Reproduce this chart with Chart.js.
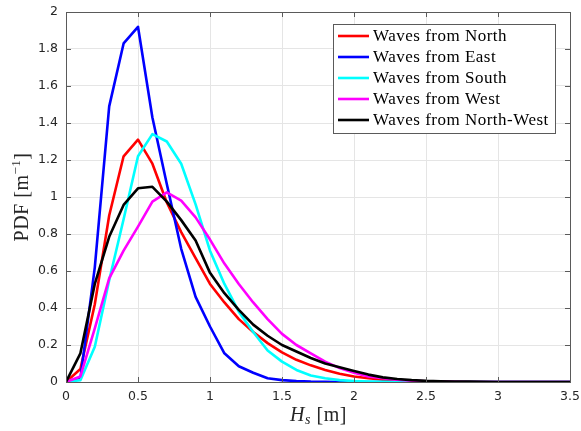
<!DOCTYPE html>
<html><head><meta charset="utf-8">
<script src="https://cdn.jsdelivr.net/npm/chart.js@4"></script>
<style>html,body{margin:0;padding:0;background:#fff;}canvas{display:block;}</style>
</head><body>
<canvas id="c" width="581" height="431"></canvas>
<script>
const hs = [0,0.1,0.2,0.3,0.4,0.5,0.6,0.7,0.8,0.9,1.0,1.1,1.2,1.3,1.4,1.5,1.6,1.7,1.8,1.9,2.0,2.1,2.2,2.3,2.4,2.5,2.6,2.7,2.8,2.9,3.0,3.1,3.2,3.3,3.4,3.5];
const north = [0,0.07,0.42,0.9,1.22,1.31,1.18,0.97,0.81,0.67,0.53,0.43,0.34,0.27,0.21,0.16,0.12,0.09,0.065,0.045,0.03,0.02,0.013,0.008,0.005,0.003,0.002,0.001,0,0,0,0,0,0,0,0];
const east = [0,0.02,0.62,1.49,1.83,1.92,1.43,1.07,0.72,0.46,0.30,0.155,0.085,0.05,0.02,0.01,0.005,0.002,0.001,0,0,0,0,0,0,0,0,0,0,0,0,0,0,0,0,0];
const south = [0,0.01,0.19,0.55,0.88,1.22,1.34,1.30,1.18,0.96,0.71,0.53,0.38,0.27,0.17,0.11,0.065,0.035,0.02,0.01,0.005,0.003,0.001,0,0,0,0,0,0,0,0,0,0,0,0,0];
const west = [0,0.03,0.29,0.56,0.71,0.84,0.975,1.025,0.98,0.89,0.77,0.64,0.53,0.43,0.34,0.26,0.2,0.155,0.11,0.075,0.05,0.03,0.02,0.012,0.007,0.004,0.002,0.001,0,0,0,0,0,0,0,0];
const northWest = [0,0.155,0.53,0.785,0.957,1.047,1.055,0.975,0.875,0.765,0.59,0.48,0.39,0.31,0.25,0.2,0.165,0.13,0.1,0.08,0.06,0.04,0.025,0.016,0.01,0.006,0.004,0.003,0.002,0.001,0,0,0,0,0,0];
const seriesLabels = ['Waves from North','Waves from East','Waves from South','Waves from West','Waves from North-West'];
const seriesColors = ['#ff0000','#0000ff','#00ffff','#ff00ff','#000000'];
const xTicks = [0,0.5,1,1.5,2,2.5,3,3.5];
const yTicks = [0,0.2,0.4,0.6,0.8,1,1.2,1.4,1.6,1.8,2];

const allSeries = [north, east, south, west, northWest];
const datasets = allSeries.map((arr, i) => ({
  label: seriesLabels[i],
  data: hs.map((x, k) => ({x: x, y: arr[k]})),
  borderColor: seriesColors[i],
  backgroundColor: seriesColors[i],
  borderWidth: 2.6,
  pointRadius: 0,
  tension: 0,
  order: allSeries.length - i,
  borderJoinStyle: 'round'
}));

const AX = '#262626';
const FRAME = '#5a5a5a';
function setSpacing(ctx, v) { if ('letterSpacing' in ctx) ctx.letterSpacing = v; }
const frame = {
  id: 'frame',
  afterDatasetsDraw(chart) {
    const {ctx, chartArea: a, scales} = chart;
    ctx.save();
    ctx.strokeStyle = FRAME; ctx.lineWidth = 1;
    ctx.strokeRect(Math.round(a.left)+0.5, Math.round(a.top)+0.5, Math.round(a.right-a.left), Math.round(a.bottom-a.top));
    const tl = 5;
    ctx.beginPath();
    yTicks.forEach(v => { const y = Math.round(scales.y.getPixelForValue(v))+0.5;
      ctx.moveTo(a.left, y); ctx.lineTo(a.left+tl, y); ctx.moveTo(a.right, y); ctx.lineTo(a.right-tl, y); });
    xTicks.forEach(v => { const x = Math.round(scales.x.getPixelForValue(v))+0.5;
      ctx.moveTo(x, a.bottom); ctx.lineTo(x, a.bottom-tl); ctx.moveTo(x, a.top); ctx.lineTo(x, a.top+tl); });
    ctx.stroke();
    // legend
    const lx = 333.5, ly = 24.5, lw = 222, lh = 109;
    ctx.fillStyle = '#fff'; ctx.fillRect(lx, ly, lw, lh);
    ctx.strokeStyle = FRAME; ctx.lineWidth = 1; ctx.strokeRect(lx, ly, lw, lh);
    ctx.font = '17px "Liberation Serif"';
    setSpacing(ctx, '0.5px');
    ctx.textBaseline = 'middle'; ctx.textAlign = 'left';
    chart.data.datasets.forEach((ds, i) => {
      const y = 36 + i * 21;
      ctx.strokeStyle = ds.borderColor; ctx.lineWidth = 2.6;
      ctx.beginPath(); ctx.moveTo(338, y); ctx.lineTo(369, y); ctx.stroke();
      ctx.fillStyle = '#000'; ctx.fillText(ds.label, 373, y + 1);
    });
    // axis titles
    ctx.fillStyle = AX;
    ctx.textBaseline = 'alphabetic';
    const xc = 318.5;
    const p1 = 'H', p2 = 's', p3 = ' [m]';
    ctx.font = 'italic 20px "Liberation Serif"'; const w1 = ctx.measureText(p1).width;
    ctx.font = 'italic 14px "Liberation Serif"'; const w2 = ctx.measureText(p2).width;
    ctx.font = '20px "Liberation Serif"'; const w3 = ctx.measureText(p3).width;
    let sx = xc - (w1 + w2 + w3) / 2; const by = 421;
    ctx.font = 'italic 20px "Liberation Serif"'; ctx.fillText(p1, sx, by); sx += w1;
    ctx.font = 'italic 14px "Liberation Serif"'; ctx.fillText(p2, sx, by + 3); sx += w2;
    ctx.font = '20px "Liberation Serif"'; ctx.fillText(p3, sx, by);
    ctx.save();
    ctx.translate(28, 197);
    ctx.rotate(-Math.PI / 2);
    const q1 = 'PDF [m', q2 = '\u22121', q3 = ']';
    ctx.font = '20px "Liberation Serif"'; const v1 = ctx.measureText(q1).width; const v3 = ctx.measureText(q3).width;
    ctx.font = '13px "Liberation Serif"'; const v2 = ctx.measureText(q2).width;
    let ty = -(v1 + v2 + v3) / 2;
    ctx.font = '20px "Liberation Serif"'; ctx.fillText(q1, ty, 0); ty += v1;
    ctx.font = '13px "Liberation Serif"'; ctx.fillText(q2, ty, -8); ty += v2;
    ctx.font = '20px "Liberation Serif"'; ctx.fillText(q3, ty, 0);
    ctx.restore();
    setSpacing(ctx, '0px');
    ctx.restore();
  }
};

const chart = new Chart(document.getElementById('c'), {
  type: 'line',
  data: { datasets },
  options: {
    responsive: false,
    animation: false,
    layout: { padding: { top: 12, right: 11, left: 0, bottom: 0 } },
    plugins: { legend: { display: false }, tooltip: { enabled: false } },
    scales: {
      x: {
        type: 'linear', min: 0, max: 3.5,
        afterBuildTicks: s => { s.ticks = xTicks.map(v => ({value: v})); },
        afterFit: s => { s.height = 49; },
        grid: { color: '#e5e5e5', drawTicks: true, tickLength: 7, tickColor: 'rgba(0,0,0,0)' },
        border: { display: false },
        ticks: { color: AX, padding: 0, font: { family: 'DejaVu Sans', size: 12.5 }, maxRotation: 0,
          callback: v => String(v) }
      },
      y: {
        type: 'linear', min: 0, max: 2,
        afterBuildTicks: s => { s.ticks = yTicks.map(v => ({value: v})); },
        afterFit: s => { s.width = 66; },
        grid: { color: '#e5e5e5', drawTicks: true, tickLength: 8, tickColor: 'rgba(0,0,0,0)' },
        border: { display: false },
        ticks: { color: AX, padding: 0, font: { family: 'DejaVu Sans', size: 12.5 },
          callback: v => String(v) }
      }
    }
  },
  plugins: [frame]
});
const target = { left: 66, right: 570, top: 12, bottom: 382 };
for (let it = 0; it < 3; it++) {
  const a = chart.chartArea, p = chart.options.layout.padding;
  p.right = Math.max(0, p.right + (a.right - target.right));
  p.top = Math.max(0, p.top + (target.top - a.top));
  p.left = Math.max(0, p.left + (target.left - a.left));
  p.bottom = Math.max(0, p.bottom + (a.bottom - target.bottom));
  chart.update();
}
</script>
</body></html>
